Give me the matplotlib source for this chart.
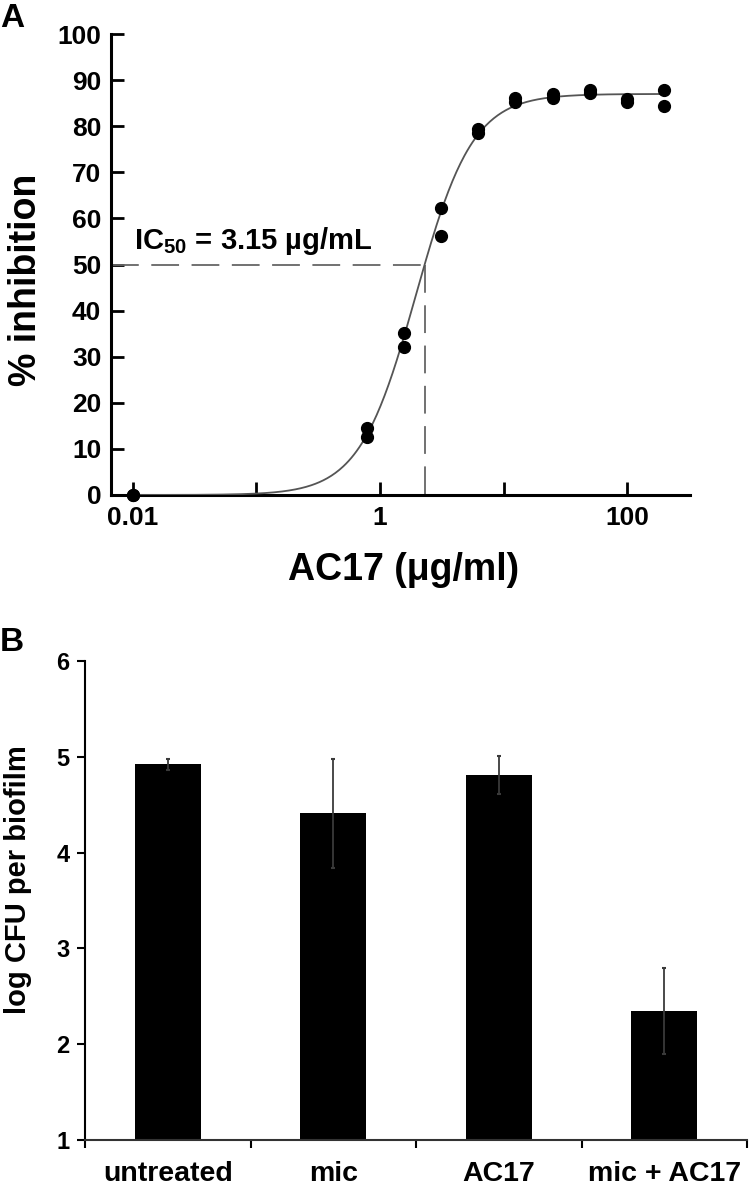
import numpy as np
import matplotlib
matplotlib.use('Agg')
import matplotlib.pyplot as plt
from matplotlib.ticker import FixedLocator, NullFormatter, FixedFormatter


# Panel A - dose response (duplicate wells)
conc = [0.01, 0.01, 0.78, 0.78, 1.56, 1.56, 3.125, 3.125, 6.25, 6.25,
        12.5, 12.5, 25, 25, 50, 50, 100, 100, 200, 200]
inhibition = [0, 0, 14.6, 12.6, 35.2, 32.2, 62.2, 56.1, 79.5, 78.6,
              86.2, 85.3, 87.0, 86.2, 87.8, 87.2, 85.8, 85.3, 87.8, 84.3]

# fitted 4-parameter logistic
fit_bottom = 0.0
fit_top = 87.0
fit_ec50 = 1.96
fit_hill = 1.89
ic50_mark = 2.3      # where the dashed guide lines meet
xtick_vals = [0.01, 0.1, 1, 10, 100]
xtick_labels = ['0.01', '', '1', '', '100']
ytick_vals = list(range(0, 101, 10))

# Panel B - biofilm CFU
groups = ['untreated', 'mic', 'AC17', 'mic + AC17']
log_cfu = [4.92, 4.41, 4.81, 2.35]
log_cfu_err = [0.06, 0.57, 0.20, 0.45]

W, H = 750, 1186


def fx(px):
    return px / W


def fy(py):
    return 1 - py / H


plt.rcParams['font.family'] = ['Liberation Sans', 'DejaVu Sans']
plt.rcParams['font.weight'] = 'bold'
plt.rcParams['mathtext.fontset'] = 'custom'
plt.rcParams['mathtext.rm'] = 'Liberation Sans:bold'
plt.rcParams['mathtext.it'] = 'Liberation Sans:bold'
plt.rcParams['mathtext.bf'] = 'Liberation Sans:bold'
plt.rcParams['mathtext.default'] = 'regular'

fig = plt.figure(figsize=(W / 100, H / 100), dpi=100)

# ---------------- Panel A ----------------
axA = fig.add_axes([fx(111), fy(495), fx(690) - fx(111), fy(34) - fy(495)])
axA.set_xscale('log')
axA.set_xlim(10 ** -2.178, 10 ** 2.51)
axA.set_ylim(0, 100)

xs = np.logspace(-2, np.log10(200), 400)
ys = fit_bottom + (fit_top - fit_bottom) / (1 + (fit_ec50 / xs) ** fit_hill)
axA.plot(xs, ys, color='#555555', lw=1.3, zorder=3)

axA.plot(conc, inhibition, 'o', color='black', ms=8.5, clip_on=False, zorder=4)

lw_d = 1.3
dash = (20 / lw_d, 9 / lw_d)
axA.plot([axA.get_xlim()[0], ic50_mark], [50, 50], color='#666666', lw=lw_d,
         dashes=dash, zorder=2)
axA.plot([ic50_mark, ic50_mark], [50, 0], color='#666666', lw=lw_d,
         dashes=dash, zorder=2)

axA.text(0.0102, 53.3, 'IC$_{50}$ = 3.15 µg/mL', fontsize=21, fontweight='bold',
         ha='left', va='baseline')

for s in ['top', 'right']:
    axA.spines[s].set_visible(False)
for s in ['left', 'bottom']:
    axA.spines[s].set_linewidth(2.2)

axA.xaxis.set_major_locator(FixedLocator(xtick_vals))
axA.xaxis.set_major_formatter(FixedFormatter(xtick_labels))
axA.xaxis.set_minor_locator(FixedLocator([]))
axA.set_yticks(ytick_vals)
axA.tick_params(axis='both', direction='in', length=9.5, width=2)
axA.tick_params(axis='x', pad=8)
axA.tick_params(axis='y', pad=7)
for lab in axA.get_xticklabels() + axA.get_yticklabels():
    lab.set_family(['Liberation Sans Narrow', 'Liberation Sans'])
    lab.set_fontsize(19)
    lab.set_fontweight('bold')

fig.text(fx(0), fy(3), 'A', fontsize=24, fontweight='bold', ha='left', va='top')
fig.text(fx(26), fy(280), '% inhibition', fontsize=27, fontweight='bold',
         rotation=90, ha='center', va='center')
fig.text(fx(404), fy(570), 'AC17 (μg/ml)', fontsize=27, fontweight='bold',
         ha='center', va='center')

# ---------------- Panel B ----------------
axB = fig.add_axes([fx(85), fy(1140), fx(747) - fx(85), fy(661) - fy(1140)])
pos = np.arange(len(groups))
axB.bar(pos, log_cfu, width=0.4, color='black', zorder=2)
axB.errorbar(pos, log_cfu, yerr=log_cfu_err, fmt='none', ecolor='#3a3a3a',
             elinewidth=1.3, capsize=1.6, capthick=1.5, zorder=3)
axB.set_xlim(-0.5, 3.5)
axB.set_ylim(1, 6)
axB.set_yticks([1, 2, 3, 4, 5, 6])

for s in ['top', 'right']:
    axB.spines[s].set_visible(False)
for s in ['left', 'bottom']:
    axB.spines[s].set_linewidth(1.5)
axB.spines['bottom'].set_color('#333333')

axB.xaxis.set_major_locator(FixedLocator(np.arange(-0.5, 3.6, 1.0)))
axB.xaxis.set_major_formatter(NullFormatter())
axB.xaxis.set_minor_locator(FixedLocator(pos))
axB.xaxis.set_minor_formatter(FixedFormatter(groups))
axB.tick_params(axis='x', which='minor', length=0, pad=15, labelsize=20.5)
axB.tick_params(axis='both', which='major', direction='out', length=6, width=1.5)
axB.tick_params(axis='y', labelsize=17, pad=5)
for lab in axB.get_xticklabels(which='minor') + axB.get_yticklabels():
    lab.set_fontweight('bold')

fig.text(fx(0), fy(627), 'B', fontsize=24, fontweight='bold', ha='left', va='top')
fig.text(fx(18), fy(880), 'log CFU per biofilm', fontsize=21, fontweight='bold',
         rotation=90, ha='center', va='center')

fig.savefig('out.png', dpi=100)
